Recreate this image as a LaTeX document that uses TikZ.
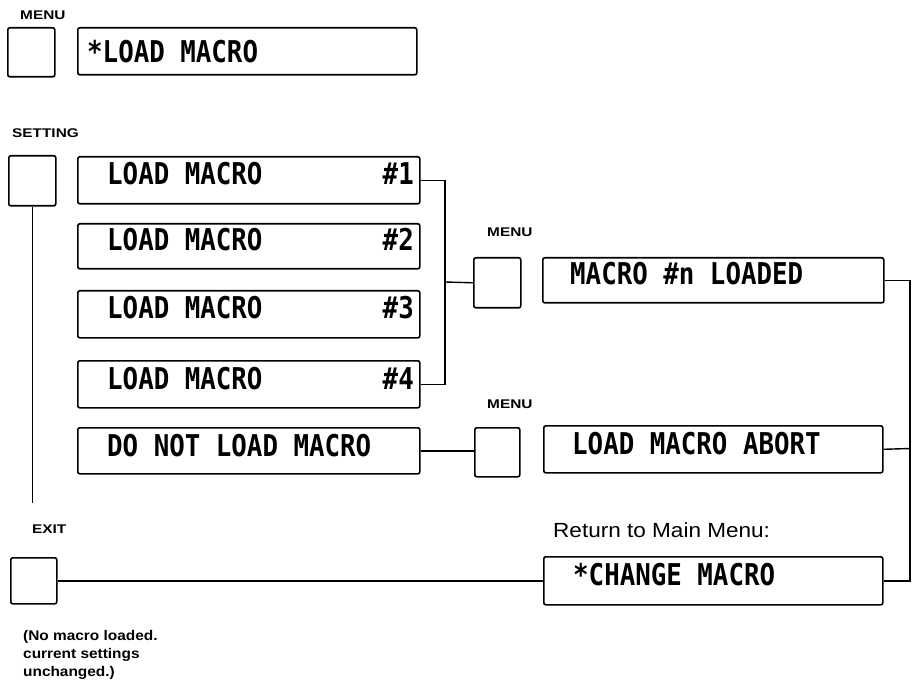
\documentclass[tikz,border=0pt]{standalone}
\usepackage{fontspec}
\newfontfamily\lcdf{DejaVu Sans Mono}[FakeStretch=0.86]
\newfontfamily\labf{Liberation Sans}[FakeStretch=1.22]
\newfontfamily\retf{Liberation Sans}[FakeStretch=1.1]
\newfontfamily\notef{Liberation Sans}[FakeStretch=1.1]
\begin{document}
\begin{tikzpicture}[x=1pt,y=-1pt,
  box/.style={draw, line width=1.6pt, rounded corners=2pt, inner sep=0pt, anchor=north west},
  conn/.style={line width=1.4pt},
  lcd/.style={inner sep=0pt, font=\lcdf\bfseries\fontsize{30}{30}\selectfont},
  lab/.style={inner sep=0pt, anchor=base west, font=\labf\bfseries\fontsize{12.6}{14}\selectfont},
  ret/.style={inner sep=0pt, anchor=base west, font=\retf\fontsize{20.5}{22}\selectfont},
  notes/.style={inner sep=0pt, anchor=base west, font=\notef\bfseries\fontsize{14}{18}\selectfont}]
\useasboundingbox (0,0) rectangle (912,684);
% boxes
\node[box, minimum width=47pt, minimum height=49pt] (menuA) at (7,27) {};
\node[box, minimum width=339pt, minimum height=47pt] (loadA) at (77,27) {};
\node[box, minimum width=47pt, minimum height=50pt] (setB) at (8,155) {};
\node[box, minimum width=342pt, minimum height=47pt] (lm1) at (77,156) {};
\node[box, minimum width=342pt, minimum height=45pt] (lm2) at (77,223) {};
\node[box, minimum width=342pt, minimum height=47pt] (lm3) at (77,290) {};
\node[box, minimum width=342pt, minimum height=47pt] (lm4) at (77,360) {};
\node[box, minimum width=342pt, minimum height=46pt] (dnl) at (77,427) {};
\node[box, minimum width=47pt, minimum height=50pt] (menuC) at (473,257) {};
\node[box, minimum width=341pt, minimum height=45pt] (loaded) at (542,257) {};
\node[box, minimum width=45pt, minimum height=49pt] (menuD) at (474,427) {};
\node[box, minimum width=339pt, minimum height=47pt] (abort) at (543,425) {};
\node[box, minimum width=46pt, minimum height=46pt] (exitB) at (10,557) {};
\node[box, minimum width=339pt, minimum height=48pt] (change) at (543,556) {};
% LCD texts
\node[lcd, anchor=base west] (tA) at (87,63) {*LOAD MACRO};
\node[lcd, anchor=base west] (t1) at (107,185) {LOAD MACRO};
\node[lcd, anchor=base east] (n1) at (414,185) {\#1};
\node[lcd, anchor=base west] (t2) at (107,251) {LOAD MACRO};
\node[lcd, anchor=base east] (n2) at (414,251) {\#2};
\node[lcd, anchor=base west] (t3) at (107,319) {LOAD MACRO};
\node[lcd, anchor=base east] (n3) at (414,319) {\#3};
\node[lcd, anchor=base west] (t4) at (107,389) {LOAD MACRO};
\node[lcd, anchor=base east] (n4) at (414,389) {\#4};
\node[lcd, anchor=base west] (t5) at (107,456) {DO NOT LOAD MACRO};
\node[lcd, anchor=base west] (t6) at (570,285) {MACRO \#n LOADED};
\node[lcd, anchor=base west] (t7) at (572,454) {LOAD MACRO ABORT};
\node[lcd, anchor=base west] (t8) at (573,585) {*CHANGE MACRO};
% labels
\node[lab] (lMenuA) at (20,20) {MENU};
\node[lab] (lSet) at (12,138) {SETTING};
\node[lab] (lMenuC) at (487,237) {MENU};
\node[lab] (lMenuD) at (487,408) {MENU};
\node[lab] (lExit) at (32,533) {EXIT};
\node[ret] (lRet) at (553,537) {Return to Main Menu:};
\node[notes] (note1) at (23,640) {(No macro loaded.};
\node[notes] (note2) at (23,658) {current settings};
\node[notes] (note3) at (23,676) {unchanged.)};
% connectors
\coordinate (j1) at (445,282);
\coordinate (j2) at (910,448.5);
\coordinate (s1) at (33,503);
\draw[conn] (lm1.east) -| (j1) |- (lm4.east);
\draw[conn] (j1) -- (menuC.west);
\draw[conn] (loaded.east) -| (j2) |- (change.east);
\draw[conn] (abort.east) -- (j2);
\draw[conn] (dnl.east) -- (dnl.east -| menuD.west);
\draw[conn] (exitB.east) -- (exitB.east -| change.west);
\draw[conn] (setB.south) -- (setB.south |- s1);
\end{tikzpicture}
\end{document}
